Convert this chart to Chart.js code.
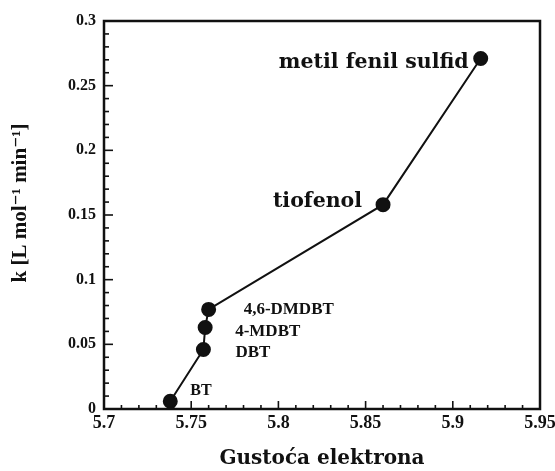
<!DOCTYPE html>
<html>
<head>
<meta charset="utf-8">
<script src="https://cdn.jsdelivr.net/npm/chart.js@4/dist/chart.umd.min.js"></script>
<style>
  html, body { margin: 0; padding: 0; background: #fff; }
  #wrap { width: 555px; height: 471px; position: relative; }
</style>
</head>
<body>
<div id="wrap"><canvas id="c"></canvas></div>
<script>
// ---- data ----
const compounds = ['BT', 'DBT', '4-MDBT', '4,6-DMDBT', 'tiofenol', 'metil fenil sulfid'];
const electronDensity = [5.738, 5.757, 5.758, 5.760, 5.860, 5.916];
const rateConstant = [0.006, 0.046, 0.063, 0.077, 0.158, 0.271];
const xTickLabels = ['5.7', '5.75', '5.8', '5.85', '5.9', '5.95'];
const yTickLabels = ['0', '0.05', '0.1', '0.15', '0.2', '0.25', '0.3'];
const xTitle = 'Gustoća elektrona';
const yTitle = 'k [L mol\u207B\u00B9 min\u207B\u00B9]';

// ---- label placement (style, not data) ----
const SERIF = '"Liberation Serif", "DejaVu Serif", serif';
const WIDE_SERIF = '"DejaVu Serif", "Liberation Serif", serif';
const labelStyle = [
  { dx: 20, dy: -10, align: 'left',  size: 16, family: SERIF },
  { dx: 32, dy: 3,   align: 'left',  size: 17, family: SERIF },
  { dx: 30, dy: 4,   align: 'left',  size: 17, family: SERIF },
  { dx: 35, dy: 0,   align: 'left',  size: 17, family: SERIF },
  { dx: -21, dy: -3, align: 'right', size: 20.5, family: WIDE_SERIF },
  { dx: -12, dy: 4,  align: 'right', size: 20.5, family: WIDE_SERIF }
];
const INK = '#111';

const points = electronDensity.map((x, i) => ({ x: x, y: rateConstant[i] }));

function isMajor(v, step) {
  const r = Math.round(v / step);
  return Math.abs(v - r * step) < 1e-6;
}

const frameAndTicks = {
  id: 'frameAndTicks',
  afterDraw(chart) {
    const ctx = chart.ctx;
    const a = chart.chartArea;
    const xs = chart.scales.x, ys = chart.scales.y;
    ctx.save();
    ctx.strokeStyle = INK;
    ctx.lineWidth = 1.6;
    xs.ticks.forEach(t => {
      const px = xs.getPixelForValue(t.value);
      const len = isMajor(t.value, 0.05) ? 8 : 4;
      ctx.beginPath(); ctx.moveTo(px, a.bottom); ctx.lineTo(px, a.bottom - len); ctx.stroke();
    });
    ys.ticks.forEach(t => {
      const py = ys.getPixelForValue(t.value);
      const len = isMajor(t.value, 0.05) ? 9 : 5;
      ctx.beginPath(); ctx.moveTo(a.left, py); ctx.lineTo(a.left + len, py); ctx.stroke();
    });
    ctx.lineWidth = 2.5;
    ctx.strokeRect(a.left, a.top, a.right - a.left, a.bottom - a.top);

    // y axis title (rotated)
    ctx.fillStyle = INK;
    ctx.font = 'bold 21px ' + SERIF;
    ctx.textAlign = 'center';
    ctx.textBaseline = 'middle';
    ctx.translate(21, (a.top + a.bottom) / 2 - 12);
    ctx.rotate(-Math.PI / 2);
    ctx.fillText(yTitle, 0, 0);
    ctx.restore();
  }
};

const pointLabels = {
  id: 'pointLabels',
  afterDatasetsDraw(chart) {
    const ctx = chart.ctx;
    const meta = chart.getDatasetMeta(0);
    ctx.save();
    ctx.fillStyle = INK;
    ctx.textBaseline = 'middle';
    meta.data.forEach((el, i) => {
      const s = labelStyle[i];
      ctx.font = 'bold ' + s.size + 'px ' + s.family;
      ctx.textAlign = s.align;
      ctx.fillText(compounds[i], el.x + s.dx, el.y + s.dy);
    });
    ctx.restore();
  }
};

new Chart(document.getElementById('c'), {
  type: 'scatter',
  data: {
    datasets: [{
      data: points,
      showLine: true,
      borderColor: INK,
      borderWidth: 2,
      backgroundColor: INK,
      pointBackgroundColor: INK,
      pointBorderColor: INK,
      pointRadius: 6.5,
      pointHoverRadius: 6.5
    }]
  },
  options: {
    responsive: true,
    maintainAspectRatio: false,
    animation: false,
    events: [],
    layout: { padding: { left: 0, top: 21, right: 15, bottom: 0 } },
    plugins: { legend: { display: false }, tooltip: { enabled: false } },
    scales: {
      x: {
        type: 'linear',
        min: 5.7, max: 5.95,
        afterFit(scale) {
          scale.height = 62;
          scale.paddingLeft = 0;
          scale.paddingRight = 0;
        },
        afterBuildTicks(scale) {
          const t = [];
          for (let i = 0; i <= 25; i++) t.push({ value: +(5.7 + i * 0.01).toFixed(2) });
          scale.ticks = t;
        },
        ticks: {
          autoSkip: false, maxRotation: 0, padding: 4,
          color: INK,
          font: { family: SERIF, size: 18, weight: 'bold' },
          callback(v) {
            if (!isMajor(v, 0.05)) return '';
            const idx = Math.round((v - 5.7) / 0.05);
            return xTickLabels[idx];
          }
        },
        grid: { display: false, drawTicks: false },
        border: { display: false },
        title: {
          display: true, text: xTitle, color: INK,
          font: { family: WIDE_SERIF, size: 20, weight: 'bold' },
          padding: { top: 0, bottom: 0 }
        }
      },
      y: {
        type: 'linear',
        min: 0, max: 0.3,
        afterFit(scale) {
          scale.width = 104;
          scale.paddingTop = 0;
          scale.paddingBottom = 0;
        },
        afterBuildTicks(scale) {
          const t = [];
          for (let i = 0; i <= 30; i++) t.push({ value: +(i * 0.01).toFixed(2) });
          scale.ticks = t;
        },
        ticks: {
          autoSkip: false, padding: 8,
          color: INK,
          font: { family: SERIF, size: 16, weight: 'bold' },
          callback(v) {
            if (!isMajor(v, 0.05)) return '';
            const idx = Math.round(v / 0.05);
            return yTickLabels[idx];
          }
        },
        grid: { display: false, drawTicks: false },
        border: { display: false },
        title: { display: false }
      }
    }
  },
  plugins: [frameAndTicks, pointLabels]
});
</script>
</body>
</html>
